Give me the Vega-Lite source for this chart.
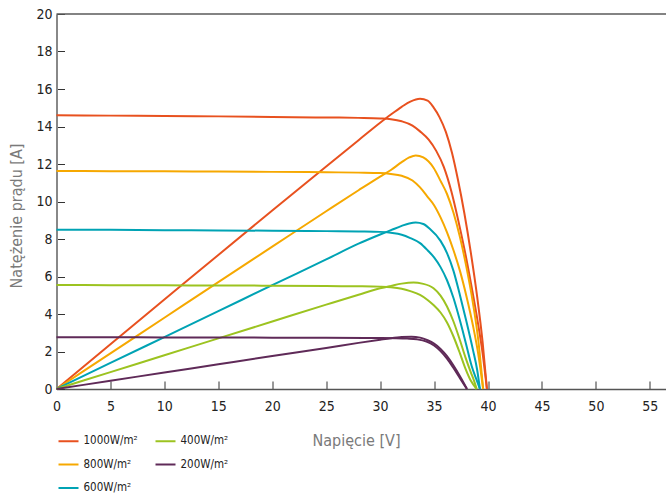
{
  "$schema": "https://vega.github.io/schema/vega-lite/v6.json",
  "width": 609.5,
  "height": 375,
  "autosize": {"type": "none"},
  "padding": {"left": 56.5, "top": 14, "right": 0, "bottom": 105},
  "background": "white",
  "config": {
    "view": {"stroke": null},
    "font": "DejaVu Sans Condensed, sans-serif",
    "axis": {"grid": false}
  },
  "data": {"values": [
    {"g":"1000W/m²","c":"I","v":0,"a":14.6},{"g":"1000W/m²","c":"I","v":5,"a":14.58},{"g":"1000W/m²","c":"I","v":10,"a":14.56},{"g":"1000W/m²","c":"I","v":15,"a":14.54},{"g":"1000W/m²","c":"I","v":20,"a":14.51},{"g":"1000W/m²","c":"I","v":25,"a":14.48},{"g":"1000W/m²","c":"I","v":28,"a":14.46},{"g":"1000W/m²","c":"I","v":30,"a":14.43},{"g":"1000W/m²","c":"I","v":31,"a":14.39},{"g":"1000W/m²","c":"I","v":32,"a":14.28},{"g":"1000W/m²","c":"I","v":33,"a":14.05},{"g":"1000W/m²","c":"I","v":33.7,"a":13.74},{"g":"1000W/m²","c":"I","v":34.5,"a":13.3},{"g":"1000W/m²","c":"I","v":35.2,"a":12.7},{"g":"1000W/m²","c":"I","v":35.9,"a":11.85},{"g":"1000W/m²","c":"I","v":36.6,"a":10.55},{"g":"1000W/m²","c":"I","v":37.2,"a":9.1},{"g":"1000W/m²","c":"I","v":37.8,"a":7.5},{"g":"1000W/m²","c":"I","v":38.4,"a":5.7},{"g":"1000W/m²","c":"I","v":39,"a":3.75},{"g":"1000W/m²","c":"I","v":39.5,"a":1.9},{"g":"1000W/m²","c":"I","v":39.9,"a":0},
    {"g":"1000W/m²","c":"P","v":0,"a":0},{"g":"1000W/m²","c":"P","v":5,"a":2.39},{"g":"1000W/m²","c":"P","v":10,"a":4.77},{"g":"1000W/m²","c":"P","v":15,"a":7.15},{"g":"1000W/m²","c":"P","v":20,"a":9.52},{"g":"1000W/m²","c":"P","v":25,"a":11.87},{"g":"1000W/m²","c":"P","v":28,"a":13.27},{"g":"1000W/m²","c":"P","v":30,"a":14.2},{"g":"1000W/m²","c":"P","v":31,"a":14.64},{"g":"1000W/m²","c":"P","v":32,"a":15.05},{"g":"1000W/m²","c":"P","v":32.8,"a":15.33},{"g":"1000W/m²","c":"P","v":33.7,"a":15.48},{"g":"1000W/m²","c":"P","v":34.4,"a":15.38},{"g":"1000W/m²","c":"P","v":34.95,"a":15.02},{"g":"1000W/m²","c":"P","v":35.5,"a":14.5},{"g":"1000W/m²","c":"P","v":36.1,"a":13.7},{"g":"1000W/m²","c":"P","v":36.66,"a":12.6},{"g":"1000W/m²","c":"P","v":37.2,"a":11.2},{"g":"1000W/m²","c":"P","v":37.8,"a":9.4},{"g":"1000W/m²","c":"P","v":38.4,"a":7.3},{"g":"1000W/m²","c":"P","v":39,"a":4.9},{"g":"1000W/m²","c":"P","v":39.5,"a":2.5},{"g":"1000W/m²","c":"P","v":39.9,"a":0},
    {"g":"800W/m²","c":"I","v":0,"a":11.63},{"g":"800W/m²","c":"I","v":5,"a":11.62},{"g":"800W/m²","c":"I","v":10,"a":11.61},{"g":"800W/m²","c":"I","v":15,"a":11.6},{"g":"800W/m²","c":"I","v":20,"a":11.58},{"g":"800W/m²","c":"I","v":25,"a":11.56},{"g":"800W/m²","c":"I","v":28,"a":11.54},{"g":"800W/m²","c":"I","v":30,"a":11.52},{"g":"800W/m²","c":"I","v":31,"a":11.47},{"g":"800W/m²","c":"I","v":32,"a":11.37},{"g":"800W/m²","c":"I","v":33,"a":11.12},{"g":"800W/m²","c":"I","v":33.7,"a":10.75},{"g":"800W/m²","c":"I","v":34.4,"a":10.25},{"g":"800W/m²","c":"I","v":35,"a":9.8},{"g":"800W/m²","c":"I","v":35.6,"a":9.15},{"g":"800W/m²","c":"I","v":36.2,"a":8.35},{"g":"800W/m²","c":"I","v":36.8,"a":7.4},{"g":"800W/m²","c":"I","v":37.4,"a":6.3},{"g":"800W/m²","c":"I","v":38,"a":4.95},{"g":"800W/m²","c":"I","v":38.6,"a":3.4},{"g":"800W/m²","c":"I","v":39.1,"a":1.85},{"g":"800W/m²","c":"I","v":39.55,"a":0},
    {"g":"800W/m²","c":"P","v":0,"a":0},{"g":"800W/m²","c":"P","v":5,"a":1.9},{"g":"800W/m²","c":"P","v":10,"a":3.8},{"g":"800W/m²","c":"P","v":15,"a":5.7},{"g":"800W/m²","c":"P","v":20,"a":7.59},{"g":"800W/m²","c":"P","v":25,"a":9.48},{"g":"800W/m²","c":"P","v":28,"a":10.6},{"g":"800W/m²","c":"P","v":30,"a":11.33},{"g":"800W/m²","c":"P","v":31,"a":11.68},{"g":"800W/m²","c":"P","v":32,"a":12.1},{"g":"800W/m²","c":"P","v":32.7,"a":12.35},{"g":"800W/m²","c":"P","v":33.3,"a":12.46},{"g":"800W/m²","c":"P","v":34,"a":12.35},{"g":"800W/m²","c":"P","v":34.95,"a":11.8},{"g":"800W/m²","c":"P","v":35.6,"a":11.1},{"g":"800W/m²","c":"P","v":36.2,"a":10.4},{"g":"800W/m²","c":"P","v":36.8,"a":9.4},{"g":"800W/m²","c":"P","v":37.4,"a":8.1},{"g":"800W/m²","c":"P","v":38,"a":6.5},{"g":"800W/m²","c":"P","v":38.6,"a":4.6},{"g":"800W/m²","c":"P","v":39.1,"a":2.6},{"g":"800W/m²","c":"P","v":39.55,"a":0},
    {"g":"600W/m²","c":"I","v":0,"a":8.5},{"g":"600W/m²","c":"I","v":5,"a":8.49},{"g":"600W/m²","c":"I","v":10,"a":8.47},{"g":"600W/m²","c":"I","v":15,"a":8.46},{"g":"600W/m²","c":"I","v":20,"a":8.44},{"g":"600W/m²","c":"I","v":25,"a":8.42},{"g":"600W/m²","c":"I","v":28,"a":8.4},{"g":"600W/m²","c":"I","v":30,"a":8.38},{"g":"600W/m²","c":"I","v":31,"a":8.33},{"g":"600W/m²","c":"I","v":32,"a":8.23},{"g":"600W/m²","c":"I","v":32.8,"a":8.05},{"g":"600W/m²","c":"I","v":33.7,"a":7.78},{"g":"600W/m²","c":"I","v":34.4,"a":7.4},{"g":"600W/m²","c":"I","v":35,"a":7.02},{"g":"600W/m²","c":"I","v":35.6,"a":6.5},{"g":"600W/m²","c":"I","v":36.2,"a":5.8},{"g":"600W/m²","c":"I","v":36.8,"a":4.85},{"g":"600W/m²","c":"I","v":37.4,"a":3.65},{"g":"600W/m²","c":"I","v":37.9,"a":2.55},{"g":"600W/m²","c":"I","v":38.5,"a":1.2},{"g":"600W/m²","c":"I","v":38.9,"a":0.55},{"g":"600W/m²","c":"I","v":39.25,"a":0},
    {"g":"600W/m²","c":"P","v":0,"a":0},{"g":"600W/m²","c":"P","v":5,"a":1.39},{"g":"600W/m²","c":"P","v":10,"a":2.77},{"g":"600W/m²","c":"P","v":15,"a":4.15},{"g":"600W/m²","c":"P","v":20,"a":5.54},{"g":"600W/m²","c":"P","v":25,"a":6.91},{"g":"600W/m²","c":"P","v":28,"a":7.75},{"g":"600W/m²","c":"P","v":30,"a":8.24},{"g":"600W/m²","c":"P","v":31,"a":8.47},{"g":"600W/m²","c":"P","v":32,"a":8.7},{"g":"600W/m²","c":"P","v":32.7,"a":8.83},{"g":"600W/m²","c":"P","v":33.3,"a":8.88},{"g":"600W/m²","c":"P","v":34,"a":8.8},{"g":"600W/m²","c":"P","v":34.6,"a":8.55},{"g":"600W/m²","c":"P","v":35.6,"a":7.9},{"g":"600W/m²","c":"P","v":36.2,"a":7.25},{"g":"600W/m²","c":"P","v":36.8,"a":6.3},{"g":"600W/m²","c":"P","v":37.4,"a":5.0},{"g":"600W/m²","c":"P","v":38,"a":3.6},{"g":"600W/m²","c":"P","v":38.6,"a":2.1},{"g":"600W/m²","c":"P","v":39,"a":1.0},{"g":"600W/m²","c":"P","v":39.25,"a":0},
    {"g":"400W/m²","c":"I","v":0,"a":5.55},{"g":"400W/m²","c":"I","v":5,"a":5.54},{"g":"400W/m²","c":"I","v":10,"a":5.53},{"g":"400W/m²","c":"I","v":15,"a":5.52},{"g":"400W/m²","c":"I","v":20,"a":5.51},{"g":"400W/m²","c":"I","v":25,"a":5.49},{"g":"400W/m²","c":"I","v":28,"a":5.48},{"g":"400W/m²","c":"I","v":30,"a":5.46},{"g":"400W/m²","c":"I","v":31,"a":5.43},{"g":"400W/m²","c":"I","v":32,"a":5.35},{"g":"400W/m²","c":"I","v":32.8,"a":5.22},{"g":"400W/m²","c":"I","v":33.7,"a":5.02},{"g":"400W/m²","c":"I","v":34.4,"a":4.75},{"g":"400W/m²","c":"I","v":35,"a":4.45},{"g":"400W/m²","c":"I","v":35.6,"a":4.08},{"g":"400W/m²","c":"I","v":36.2,"a":3.55},{"g":"400W/m²","c":"I","v":36.8,"a":2.8},{"g":"400W/m²","c":"I","v":37.4,"a":1.9},{"g":"400W/m²","c":"I","v":37.9,"a":1.1},{"g":"400W/m²","c":"I","v":38.4,"a":0.45},{"g":"400W/m²","c":"I","v":38.95,"a":0},
    {"g":"400W/m²","c":"P","v":0,"a":0},{"g":"400W/m²","c":"P","v":5,"a":0.9},{"g":"400W/m²","c":"P","v":10,"a":1.8},{"g":"400W/m²","c":"P","v":15,"a":2.7},{"g":"400W/m²","c":"P","v":20,"a":3.6},{"g":"400W/m²","c":"P","v":25,"a":4.5},{"g":"400W/m²","c":"P","v":28,"a":5.03},{"g":"400W/m²","c":"P","v":30,"a":5.37},{"g":"400W/m²","c":"P","v":31,"a":5.5},{"g":"400W/m²","c":"P","v":32,"a":5.62},{"g":"400W/m²","c":"P","v":33.1,"a":5.68},{"g":"400W/m²","c":"P","v":33.9,"a":5.62},{"g":"400W/m²","c":"P","v":34.95,"a":5.37},{"g":"400W/m²","c":"P","v":35.6,"a":4.98},{"g":"400W/m²","c":"P","v":36.2,"a":4.4},{"g":"400W/m²","c":"P","v":36.8,"a":3.6},{"g":"400W/m²","c":"P","v":37.4,"a":2.6},{"g":"400W/m²","c":"P","v":37.9,"a":1.7},{"g":"400W/m²","c":"P","v":38.4,"a":0.9},{"g":"400W/m²","c":"P","v":38.7,"a":0.45},{"g":"400W/m²","c":"P","v":38.95,"a":0},
    {"g":"200W/m²","c":"I","v":0,"a":2.76},{"g":"200W/m²","c":"I","v":5,"a":2.76},{"g":"200W/m²","c":"I","v":10,"a":2.75},{"g":"200W/m²","c":"I","v":15,"a":2.75},{"g":"200W/m²","c":"I","v":20,"a":2.74},{"g":"200W/m²","c":"I","v":25,"a":2.73},{"g":"200W/m²","c":"I","v":30,"a":2.72},{"g":"200W/m²","c":"I","v":31.5,"a":2.71},{"g":"200W/m²","c":"I","v":32.5,"a":2.69},{"g":"200W/m²","c":"I","v":33.4,"a":2.65},{"g":"200W/m²","c":"I","v":34.3,"a":2.53},{"g":"200W/m²","c":"I","v":35,"a":2.32},{"g":"200W/m²","c":"I","v":35.6,"a":2.02},{"g":"200W/m²","c":"I","v":36.2,"a":1.62},{"g":"200W/m²","c":"I","v":36.8,"a":1.12},{"g":"200W/m²","c":"I","v":37.4,"a":0.58},{"g":"200W/m²","c":"I","v":37.8,"a":0.22},{"g":"200W/m²","c":"I","v":38.05,"a":0},
    {"g":"200W/m²","c":"P","v":0,"a":0},{"g":"200W/m²","c":"P","v":5,"a":0.44},{"g":"200W/m²","c":"P","v":10,"a":0.88},{"g":"200W/m²","c":"P","v":15,"a":1.32},{"g":"200W/m²","c":"P","v":20,"a":1.76},{"g":"200W/m²","c":"P","v":25,"a":2.19},{"g":"200W/m²","c":"P","v":28,"a":2.46},{"g":"200W/m²","c":"P","v":30,"a":2.63},{"g":"200W/m²","c":"P","v":31,"a":2.71},{"g":"200W/m²","c":"P","v":32,"a":2.77},{"g":"200W/m²","c":"P","v":32.9,"a":2.79},{"g":"200W/m²","c":"P","v":33.7,"a":2.74},{"g":"200W/m²","c":"P","v":34.4,"a":2.6},{"g":"200W/m²","c":"P","v":35,"a":2.42},{"g":"200W/m²","c":"P","v":35.6,"a":2.14},{"g":"200W/m²","c":"P","v":36.2,"a":1.75},{"g":"200W/m²","c":"P","v":36.8,"a":1.25},{"g":"200W/m²","c":"P","v":37.4,"a":0.68},{"g":"200W/m²","c":"P","v":37.8,"a":0.27},{"g":"200W/m²","c":"P","v":38.05,"a":0}
  ]},
  "encoding": {
    "y": {
      "field": "a", "type": "quantitative",
      "scale": {"domain": [0, 20], "nice": false},
      "axis": {
        "title": "Natężenie prądu [A]", "values": [0,2,4,6,8,10,12,14,16,18,20], "tickCount": 11,
        "domainColor": "#888", "domainWidth": 2, "tickColor": "#333", "tickSize": -8, "tickWidth": 1,
        "labelPadding": 12.5, "labelFontSize": 14, "labelColor": "#222", "labelOverlap": false, "labelFlush": false,
        "titleFontSize": 16, "titleFontWeight": "normal", "titleColor": "#7a7a7a",
        "titleX": -40, "titleY": 201.5, "titleBaseline": "middle", "titleAngle": -90, "titleAnchor": "middle"
      }
    }
  },
  "layer": [
    {
      "mark": {"type": "line", "strokeWidth": 2, "interpolate": "monotone"},
      "encoding": {
        "x": {
          "field": "v", "type": "quantitative",
          "scale": {"domain": [0, 56.5], "nice": false, "zero": false},
          "axis": {
            "title": "Napięcie [V]", "values": [0,5,10,15,20,25,30,35,40,45,50,55],
            "domainColor": "#555", "domainWidth": 1.5, "tickColor": "#333", "tickSize": -8, "tickWidth": 1,
            "labelPadding": 18, "labelFontSize": 14, "labelColor": "#222", "labelFlush": false, "labelOverlap": false,
            "titleFontSize": 16, "titleFontWeight": "normal", "titleColor": "#7a7a7a",
            "titleX": 299.5, "titleY": 51, "titleBaseline": "middle", "titleAnchor": "middle"
          }
        },
        "color": {
          "field": "g", "type": "nominal",
          "scale": {
            "domain": ["1000W/m²", "800W/m²", "600W/m²", "400W/m²", "200W/m²"],
            "range": ["#e8511f", "#f6a800", "#00a3b4", "#9cc320", "#5f2a58"]
          },
          "legend": {
            "title": null, "orient": "none", "legendX": 1, "legendY": 416, "columns": 2,
            "symbolType": "stroke", "symbolSize": 400, "symbolStrokeWidth": 2,
            "labelFontSize": 11.5, "labelColor": "#222", "labelOffset": 4,
            "rowPadding": 6.5, "columnPadding": 13, "padding": 0
          }
        },
        "detail": {"field": "c"}
      }
    },
    {
      "data": {"values": [{"top": 20}]},
      "mark": {"type": "rule", "color": "#5a5a5a", "strokeWidth": 1.5},
      "encoding": {"y": {"field": "top", "type": "quantitative"}}
    }
  ]
}
